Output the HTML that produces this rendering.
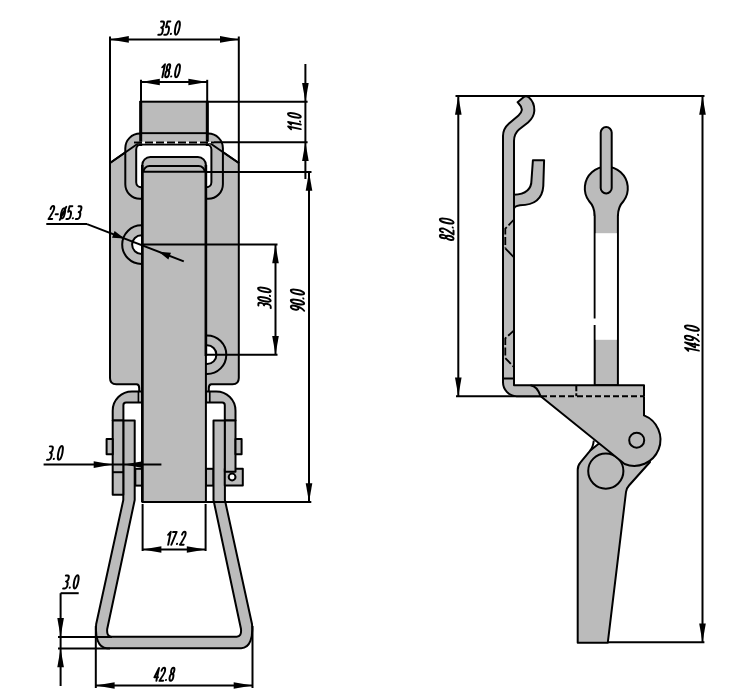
<!DOCTYPE html>
<html><head><meta charset="utf-8"><style>
html,body{margin:0;padding:0;background:#fff;}
svg{display:block;}
</style></head><body>
<svg width="729" height="696" viewBox="0 0 729 696">
<rect width="729" height="696" fill="#fff"/>
<path d="M110,163 L139.5,142.5 L209,142.5 L238.8,163 L238.8,378 Q238.8,384.3 232.5,384.3 L211.5,384.3 Q208.8,384.3 208.8,388 L208.8,392 L139.2,392 L139.2,388 Q139.2,384.3 136.5,384.3 L116.3,384.3 Q110,384.3 110,378 Z" fill="#bbbbbb" stroke="#000" stroke-width="2" stroke-linejoin="round" />
<circle cx="141.5" cy="244.6" r="19.3" fill="#bbbbbb" stroke="#000" stroke-width="2"/>
<circle cx="141.5" cy="244.6" r="9.4" fill="#fff" stroke="#000" stroke-width="2"/>
<circle cx="207.0" cy="354.7" r="19.3" fill="#bbbbbb" stroke="#000" stroke-width="2"/>
<circle cx="207.0" cy="354.7" r="9.4" fill="#fff" stroke="#000" stroke-width="2"/>
<path d="M139.9,133.6 L208.3,133.6 A14.6,14.6 0 0 1 222.9,148.2 L222.9,184.20000000000002 A14.6,14.6 0 0 1 208.3,198.8 L139.9,198.8 A14.6,14.6 0 0 1 125.3,184.20000000000002 L125.3,148.2 A14.6,14.6 0 0 1 139.9,133.6 Z" fill="#bbbbbb" stroke="#000" stroke-width="2" stroke-linejoin="round" />
<path d="M141.2,144.6 L206.4,144.6 A5,5 0 0 1 211.4,149.6 L211.4,182.2 A5,5 0 0 1 206.4,187.2 L141.2,187.2 A5,5 0 0 1 136.2,182.2 L136.2,149.6 A5,5 0 0 1 141.2,144.6 Z" fill="#fff" stroke="#000" stroke-width="2" stroke-linejoin="round" />
<line x1="110" y1="163" x2="139.5" y2="142.5" stroke="#000" stroke-width="2" />
<line x1="209" y1="142.5" x2="238.8" y2="163" stroke="#000" stroke-width="2" />
<rect x="140.7" y="101.7" width="66.6" height="31.5" fill="#bbbbbb" stroke="#000" stroke-width="2"/>
<rect x="141.7" y="134.2" width="64.6" height="9.4" fill="#bbbbbb"/>
<line x1="140.7" y1="101" x2="140.7" y2="146" stroke="#000" stroke-width="3" />
<line x1="207.3" y1="101" x2="207.3" y2="146" stroke="#000" stroke-width="3" />
<line x1="134" y1="142.5" x2="214" y2="142.5" stroke="#fff" stroke-width="1.6" />
<line x1="134" y1="142.5" x2="214" y2="142.5" stroke="#000" stroke-width="1.8" stroke-dasharray="8,3"/>
<path d="M142.3,391.4 L132,391.4 A19.3,19.3 0 0 0 112.7,410.7 L112.7,420.6 L123.4,420.6 L123.4,405.2 A2.6,2.6 0 0 1 126,402.6 L142.3,402.6 Z" fill="#bbbbbb" stroke="#000" stroke-width="2" stroke-linejoin="round" />
<path d="M205.9,391.4 L216.2,391.4 A19.3,19.3 0 0 1 235.5,410.7 L235.5,420.6 L224.8,420.6 L224.8,405.2 A2.6,2.6 0 0 0 222.2,402.6 L205.9,402.6 Z" fill="#bbbbbb" stroke="#000" stroke-width="2" stroke-linejoin="round" />
<line x1="138.4" y1="391.4" x2="138.4" y2="402.6" stroke="#000" stroke-width="1.6" />
<line x1="209.8" y1="391.4" x2="209.8" y2="402.6" stroke="#000" stroke-width="1.6" />
<rect x="135.3" y="468.8" width="7" height="16.8" fill="#bbbbbb" stroke="#000" stroke-width="2"/>
<rect x="205.9" y="468.8" width="7.6" height="16.8" fill="#bbbbbb" stroke="#000" stroke-width="2"/>
<path d="M123.3,420.6 L123.3,500 L96.2,624 C95,637 98,648.2 107,648.2 L241.2,648.2 C250.2,648.2 253.2,637 252,624 L224.9,500 L224.9,420.6 L213.5,420.6 L213.5,500 L241,629 Q241.7,636.8 236.7,636.8 L111.5,636.8 Q106.5,636.8 107.2,629 L134.7,500 L134.7,420.6 Z" fill="#bbbbbb" stroke="#000" stroke-width="2" stroke-linejoin="round" />
<path d="M224.8,468.8 L242.8,468.8 L242.8,485.6 L224.8,485.6 Z" fill="#bbbbbb" stroke="#000" stroke-width="2" stroke-linejoin="round" />
<circle cx="232.1" cy="477" r="3.4" fill="#fff" stroke="#000" stroke-width="2"/>
<path d="M112.7,420.6 L123.3,420.6 L123.3,494.7 L112.7,494.7 Z" fill="#bbbbbb" stroke="#000" stroke-width="2" stroke-linejoin="round" />
<line x1="112.7" y1="472.2" x2="123.3" y2="472.2" stroke="#000" stroke-width="2" />
<path d="M224.9,420.6 L235.5,420.6 L235.5,471.8 L224.9,471.8 Z" fill="#bbbbbb" stroke="#000" stroke-width="2" stroke-linejoin="round" />
<path d="M106.6,439.1 L112.7,439.1 L112.7,454.2 L106.6,454.2 Z" fill="#bbbbbb" stroke="#000" stroke-width="2" stroke-linejoin="round" />
<path d="M235.5,439.1 L241.6,439.1 L241.6,454.2 L235.5,454.2 Z" fill="#bbbbbb" stroke="#000" stroke-width="2" stroke-linejoin="round" />
<path d="M142.3,502 L142.3,165 A8,8 0 0 1 150.3,157 L197.9,157 A8,8 0 0 1 205.9,165 L205.9,502 Z" fill="#bbbbbb" stroke="#000" stroke-width="2" stroke-linejoin="round" />
<path d="M143.5,172 A6,6 0 0 1 149.5,166.1 L198.7,166.1 A6,6 0 0 1 204.7,172" fill="none" stroke="#000" stroke-width="2"/>
<line x1="142.3" y1="171.8" x2="205.9" y2="171.8" stroke="#000" stroke-width="2" />
<line x1="142.3" y1="165" x2="142.3" y2="502" stroke="#000" stroke-width="2.6" />
<line x1="205.9" y1="165" x2="205.9" y2="356" stroke="#000" stroke-width="2.6" />
<line x1="110" y1="36.5" x2="110" y2="163" stroke="#000" stroke-width="2" />
<line x1="238.8" y1="36.5" x2="238.8" y2="163" stroke="#000" stroke-width="2" />
<line x1="110" y1="39.4" x2="238.8" y2="39.4" stroke="#000" stroke-width="2" />
<polygon points="110.00,39.40 128.80,36.10 128.80,42.70" fill="#000"/>
<polygon points="238.80,39.40 220.00,42.70 220.00,36.10" fill="#000"/>
<g transform="translate(169.5,28) rotate(0) translate(-11.23,6.70) matrix(1,0,-0.2,1,0,0)"><path d="M0.14,-13.13 L1.86,-13.13 C3.00,-13.13 3.57,-11.97 3.57,-10.18 C3.57,-8.31 2.79,-7.15 1.50,-7.15 C3.00,-7.15 3.72,-5.72 3.72,-3.57 C3.72,-1.34 2.93,0.00 1.79,0.00 L0.00,0.00" fill="none" stroke="#000" stroke-width="1.950" stroke-linecap="round" stroke-linejoin="round"/><path d="M9.45,-13.13 L6.59,-13.13 L6.31,-7.41 C6.74,-7.95 7.24,-8.13 7.81,-8.13 C8.95,-8.13 9.67,-6.52 9.67,-4.02 C9.67,-1.52 8.88,0.00 7.74,0.00 L5.95,0.00" fill="none" stroke="#000" stroke-width="1.950" stroke-linecap="round" stroke-linejoin="round"/><circle cx="12.47" cy="-0.80" r="1.05" fill="#000"/><path d="M17.74,-13.40 C18.92,-13.40 19.78,-10.45 19.78,-6.70 C19.78,-2.95 18.92,0.00 17.74,0.00 C16.56,0.00 15.70,-2.95 15.70,-6.70 C15.70,-10.45 16.56,-13.40 17.74,-13.40 Z" fill="none" stroke="#000" stroke-width="1.950" stroke-linecap="round" stroke-linejoin="round"/></g>
<line x1="141" y1="79.8" x2="141" y2="101.7" stroke="#000" stroke-width="2" />
<line x1="207.2" y1="79.8" x2="207.2" y2="101.7" stroke="#000" stroke-width="2" />
<line x1="141" y1="82" x2="207.2" y2="82" stroke="#000" stroke-width="2" />
<polygon points="141.00,82.00 159.80,78.70 159.80,85.30" fill="#000"/>
<polygon points="207.20,82.00 188.40,85.30 188.40,78.70" fill="#000"/>
<g transform="translate(170.4,70.7) rotate(0) translate(-10.42,6.55) matrix(1,0,-0.2,1,0,0)"><path d="M0.28,-9.96 L2.38,-12.93 L2.38,0.00" fill="none" stroke="#000" stroke-width="1.950" stroke-linecap="round" stroke-linejoin="round"/><path d="M6.52,-13.10 C7.42,-13.10 8.05,-11.88 8.05,-10.04 C8.05,-8.21 7.42,-7.07 6.52,-7.07 C5.61,-7.07 4.98,-8.21 4.98,-10.04 C4.98,-11.88 5.61,-13.10 6.52,-13.10 Z M6.52,-7.07 C7.56,-7.07 8.33,-5.59 8.33,-3.54 C8.33,-1.48 7.56,0.00 6.52,0.00 C5.47,0.00 4.70,-1.48 4.70,-3.54 C4.70,-5.59 5.47,-7.07 6.52,-7.07 Z" fill="none" stroke="#000" stroke-width="1.950" stroke-linecap="round" stroke-linejoin="round"/><circle cx="11.07" cy="-0.79" r="1.05" fill="#000"/><path d="M16.23,-13.10 C17.38,-13.10 18.22,-10.22 18.22,-6.55 C18.22,-2.88 17.38,0.00 16.23,0.00 C15.07,0.00 14.24,-2.88 14.24,-6.55 C14.24,-10.22 15.07,-13.10 16.23,-13.10 Z" fill="none" stroke="#000" stroke-width="1.950" stroke-linecap="round" stroke-linejoin="round"/></g>
<line x1="207.3" y1="101.7" x2="307.6" y2="101.7" stroke="#000" stroke-width="2" />
<line x1="214" y1="142.3" x2="307.6" y2="142.3" stroke="#000" stroke-width="2" />
<line x1="205.9" y1="172" x2="311.5" y2="172" stroke="#000" stroke-width="2" />
<line x1="305.4" y1="64" x2="305.4" y2="179" stroke="#000" stroke-width="2" />
<polygon points="305.40,101.70 302.10,82.90 308.70,82.90" fill="#000"/>
<polygon points="305.40,142.30 308.70,161.10 302.10,161.10" fill="#000"/>
<g transform="translate(294.4,121.8) rotate(-90) translate(-9.63,6.40) matrix(1,0,-0.2,1,0,0)"><path d="M0.27,-9.73 L2.32,-12.63 L2.32,0.00" fill="none" stroke="#000" stroke-width="1.950" stroke-linecap="round" stroke-linejoin="round"/><path d="M4.86,-9.73 L6.91,-12.63 L6.91,0.00" fill="none" stroke="#000" stroke-width="1.950" stroke-linecap="round" stroke-linejoin="round"/><circle cx="9.73" cy="-0.77" r="1.05" fill="#000"/><path d="M14.76,-12.80 C15.89,-12.80 16.71,-9.98 16.71,-6.40 C16.71,-2.82 15.89,0.00 14.76,0.00 C13.64,0.00 12.82,-2.82 12.82,-6.40 C12.82,-9.98 13.64,-12.80 14.76,-12.80 Z" fill="none" stroke="#000" stroke-width="1.950" stroke-linecap="round" stroke-linejoin="round"/></g>
<line x1="205.9" y1="502" x2="311.3" y2="502" stroke="#000" stroke-width="2" />
<line x1="309" y1="172" x2="309" y2="502" stroke="#000" stroke-width="2" />
<polygon points="309.00,172.00 312.30,190.80 305.70,190.80" fill="#000"/>
<polygon points="309.00,502.00 305.70,483.20 312.30,483.20" fill="#000"/>
<g transform="translate(297.5,300) rotate(-90) translate(-11.32,6.65) matrix(1,0,-0.2,1,0,0)"><path d="M3.69,-9.49 C3.69,-7.36 2.91,-5.67 1.84,-5.67 C0.78,-5.67 0.00,-7.36 0.00,-9.49 C0.00,-11.62 0.78,-13.30 1.84,-13.30 C2.91,-13.30 3.69,-11.62 3.69,-9.49 C3.69,-5.32 2.84,-2.22 0.57,0.00" fill="none" stroke="#000" stroke-width="1.950" stroke-linecap="round" stroke-linejoin="round"/><path d="M7.93,-13.30 C9.10,-13.30 9.95,-10.37 9.95,-6.65 C9.95,-2.93 9.10,0.00 7.93,0.00 C6.76,0.00 5.91,-2.93 5.91,-6.65 C5.91,-10.37 6.76,-13.30 7.93,-13.30 Z" fill="none" stroke="#000" stroke-width="1.950" stroke-linecap="round" stroke-linejoin="round"/><circle cx="12.73" cy="-0.80" r="1.05" fill="#000"/><path d="M17.96,-13.30 C19.13,-13.30 19.99,-10.37 19.99,-6.65 C19.99,-2.93 19.13,0.00 17.96,0.00 C16.79,0.00 15.94,-2.93 15.94,-6.65 C15.94,-10.37 16.79,-13.30 17.96,-13.30 Z" fill="none" stroke="#000" stroke-width="1.950" stroke-linecap="round" stroke-linejoin="round"/></g>
<line x1="141.5" y1="244.5" x2="277.5" y2="244.5" stroke="#000" stroke-width="2" />
<line x1="207" y1="354.7" x2="277.5" y2="354.7" stroke="#000" stroke-width="2" />
<line x1="275.5" y1="244.5" x2="275.5" y2="354.7" stroke="#000" stroke-width="2" />
<polygon points="275.50,244.50 278.80,263.30 272.20,263.30" fill="#000"/>
<polygon points="275.50,354.70 272.20,335.90 278.80,335.90" fill="#000"/>
<g transform="translate(264.4,297.4) rotate(-90) translate(-10.73,6.30) matrix(1,0,-0.2,1,0,0)"><path d="M0.13,-12.35 L1.75,-12.35 C2.82,-12.35 3.36,-11.26 3.36,-9.58 C3.36,-7.81 2.62,-6.72 1.41,-6.72 C2.82,-6.72 3.49,-5.38 3.49,-3.36 C3.49,-1.26 2.76,0.00 1.68,0.00 L0.00,0.00" fill="none" stroke="#000" stroke-width="1.950" stroke-linecap="round" stroke-linejoin="round"/><path d="M7.51,-12.60 C8.62,-12.60 9.42,-9.83 9.42,-6.30 C9.42,-2.77 8.62,0.00 7.51,0.00 C6.40,0.00 5.59,-2.77 5.59,-6.30 C5.59,-9.83 6.40,-12.60 7.51,-12.60 Z" fill="none" stroke="#000" stroke-width="1.950" stroke-linecap="round" stroke-linejoin="round"/><circle cx="12.06" cy="-0.76" r="1.05" fill="#000"/><path d="M17.02,-12.60 C18.13,-12.60 18.93,-9.83 18.93,-6.30 C18.93,-2.77 18.13,0.00 17.02,0.00 C15.91,0.00 15.10,-2.77 15.10,-6.30 C15.10,-9.83 15.91,-12.60 17.02,-12.60 Z" fill="none" stroke="#000" stroke-width="1.950" stroke-linecap="round" stroke-linejoin="round"/></g>
<line x1="46.3" y1="224.1" x2="87.1" y2="224.1" stroke="#000" stroke-width="2" />
<line x1="87.1" y1="224.1" x2="183.8" y2="261.4" stroke="#000" stroke-width="2" />
<polygon points="124.50,238.60 112.01,237.64 114.60,230.92" fill="#000"/>
<polygon points="158.50,251.70 170.99,252.66 168.40,259.38" fill="#000"/>
<g transform="translate(65.3,212.5) rotate(0) translate(-16.77,6.50) matrix(1,0,-0.2,1,0,0)"><path d="M0.07,-10.05 C0.28,-11.96 0.97,-13.00 1.87,-13.00 C2.91,-13.00 3.54,-11.79 3.54,-9.88 C3.54,-7.63 2.36,-5.55 0.00,0.00 L3.67,0.00" fill="none" stroke="#000" stroke-width="1.950" stroke-linecap="round" stroke-linejoin="round"/><path d="M6.19,-4.68 L8.41,-4.68" fill="none" stroke="#000" stroke-width="1.950" stroke-linecap="round" stroke-linejoin="round"/><path d="M13.35,-10.83 C14.39,-10.83 15.15,-8.49 15.15,-5.63 C15.15,-2.77 14.39,-0.43 13.35,-0.43 C12.31,-0.43 11.54,-2.77 11.54,-5.63 C11.54,-8.49 12.31,-10.83 13.35,-10.83 Z M11.41,0.87 L15.29,-12.13" fill="none" stroke="#000" stroke-width="1.950" stroke-linecap="round" stroke-linejoin="round"/><path d="M21.27,-12.74 L18.49,-12.74 L18.22,-7.19 C18.63,-7.71 19.12,-7.89 19.67,-7.89 C20.78,-7.89 21.48,-6.33 21.48,-3.90 C21.48,-1.47 20.71,0.00 19.60,0.00 L17.87,0.00" fill="none" stroke="#000" stroke-width="1.950" stroke-linecap="round" stroke-linejoin="round"/><circle cx="24.20" cy="-0.78" r="1.05" fill="#000"/><path d="M27.47,-12.74 L29.14,-12.74 C30.25,-12.74 30.80,-11.61 30.80,-9.88 C30.80,-8.06 30.04,-6.93 28.79,-6.93 C30.25,-6.93 30.94,-5.55 30.94,-3.47 C30.94,-1.30 30.18,0.00 29.07,0.00 L27.33,0.00" fill="none" stroke="#000" stroke-width="1.950" stroke-linecap="round" stroke-linejoin="round"/></g>
<line x1="43.6" y1="464.6" x2="161.4" y2="464.6" stroke="#000" stroke-width="2" />
<polygon points="112.50,464.60 93.70,467.90 93.70,461.30" fill="#000"/>
<polygon points="124.00,464.60 142.80,461.30 142.80,467.90" fill="#000"/>
<g transform="translate(55.4,452.9) rotate(0) translate(-8.38,6.80) matrix(1,0,-0.2,1,0,0)"><path d="M0.15,-13.33 L1.89,-13.33 C3.05,-13.33 3.63,-12.15 3.63,-10.34 C3.63,-8.43 2.83,-7.25 1.52,-7.25 C3.05,-7.25 3.77,-5.80 3.77,-3.63 C3.77,-1.36 2.97,0.00 1.81,0.00 L0.00,0.00" fill="none" stroke="#000" stroke-width="1.950" stroke-linecap="round" stroke-linejoin="round"/><circle cx="6.62" cy="-0.82" r="1.05" fill="#000"/><path d="M11.97,-13.60 C13.16,-13.60 14.04,-10.61 14.04,-6.80 C14.04,-2.99 13.16,0.00 11.97,0.00 C10.77,0.00 9.90,-2.99 9.90,-6.80 C9.90,-10.61 10.77,-13.60 11.97,-13.60 Z" fill="none" stroke="#000" stroke-width="1.950" stroke-linecap="round" stroke-linejoin="round"/></g>
<line x1="142.6" y1="504" x2="142.6" y2="551" stroke="#000" stroke-width="2" />
<line x1="205.6" y1="504" x2="205.6" y2="551" stroke="#000" stroke-width="2" />
<line x1="142.6" y1="549.5" x2="205.6" y2="549.5" stroke="#000" stroke-width="2" />
<polygon points="142.60,549.50 161.40,546.20 161.40,552.80" fill="#000"/>
<polygon points="205.60,549.50 186.80,552.80 186.80,546.20" fill="#000"/>
<g transform="translate(176,538.2) rotate(0) translate(-10.17,6.50) matrix(1,0,-0.2,1,0,0)"><path d="M0.28,-9.88 L2.36,-12.83 L2.36,0.00" fill="none" stroke="#000" stroke-width="1.950" stroke-linecap="round" stroke-linejoin="round"/><path d="M4.66,-12.74 L8.27,-12.74 L5.49,0.00" fill="none" stroke="#000" stroke-width="1.950" stroke-linecap="round" stroke-linejoin="round"/><circle cx="10.99" cy="-0.78" r="1.05" fill="#000"/><path d="M14.20,-10.05 C14.40,-11.96 15.10,-13.00 16.00,-13.00 C17.04,-13.00 17.66,-11.79 17.66,-9.88 C17.66,-7.63 16.48,-5.55 14.13,0.00 L17.80,0.00" fill="none" stroke="#000" stroke-width="1.950" stroke-linecap="round" stroke-linejoin="round"/></g>
<line x1="95.8" y1="626" x2="95.8" y2="688" stroke="#000" stroke-width="2" />
<line x1="252.5" y1="626" x2="252.5" y2="688" stroke="#000" stroke-width="2" />
<line x1="95.8" y1="685.5" x2="252.5" y2="685.5" stroke="#000" stroke-width="2" />
<polygon points="95.80,685.50 114.60,682.20 114.60,688.80" fill="#000"/>
<polygon points="252.50,685.50 233.70,688.80 233.70,682.20" fill="#000"/>
<g transform="translate(164.4,674.3) rotate(0) translate(-10.76,6.50) matrix(1,0,-0.2,1,0,0)"><path d="M2.77,0.00 L2.77,-12.83 L0.00,-3.64 L3.67,-3.64" fill="none" stroke="#000" stroke-width="1.950" stroke-linecap="round" stroke-linejoin="round"/><path d="M5.91,-10.05 C6.12,-11.96 6.81,-13.00 7.71,-13.00 C8.75,-13.00 9.38,-11.79 9.38,-9.88 C9.38,-7.63 8.20,-5.55 5.84,0.00 L9.52,0.00" fill="none" stroke="#000" stroke-width="1.950" stroke-linecap="round" stroke-linejoin="round"/><circle cx="12.17" cy="-0.78" r="1.05" fill="#000"/><path d="M17.11,-13.00 C18.01,-13.00 18.63,-11.79 18.63,-9.97 C18.63,-8.15 18.01,-7.02 17.11,-7.02 C16.21,-7.02 15.58,-8.15 15.58,-9.97 C15.58,-11.79 16.21,-13.00 17.11,-13.00 Z M17.11,-7.02 C18.15,-7.02 18.91,-5.55 18.91,-3.51 C18.91,-1.47 18.15,0.00 17.11,0.00 C16.07,0.00 15.31,-1.47 15.31,-3.51 C15.31,-5.55 16.07,-7.02 17.11,-7.02 Z" fill="none" stroke="#000" stroke-width="1.950" stroke-linecap="round" stroke-linejoin="round"/></g>
<line x1="58" y1="636.9" x2="112" y2="636.9" stroke="#000" stroke-width="2" />
<line x1="58" y1="648.4" x2="110" y2="648.4" stroke="#000" stroke-width="2" />
<line x1="60.6" y1="593.2" x2="60.6" y2="686" stroke="#000" stroke-width="2" />
<line x1="60.6" y1="593.2" x2="78.7" y2="593.2" stroke="#000" stroke-width="2" />
<polygon points="60.60,636.90 57.30,618.10 63.90,618.10" fill="#000"/>
<polygon points="60.60,648.40 63.90,667.20 57.30,667.20" fill="#000"/>
<g transform="translate(71.3,581.8) rotate(0) translate(-8.19,6.65) matrix(1,0,-0.2,1,0,0)"><path d="M0.14,-13.03 L1.84,-13.03 C2.98,-13.03 3.55,-11.88 3.55,-10.11 C3.55,-8.25 2.77,-7.09 1.49,-7.09 C2.98,-7.09 3.69,-5.67 3.69,-3.55 C3.69,-1.33 2.91,0.00 1.77,0.00 L0.00,0.00" fill="none" stroke="#000" stroke-width="1.950" stroke-linecap="round" stroke-linejoin="round"/><circle cx="6.47" cy="-0.80" r="1.05" fill="#000"/><path d="M11.70,-13.30 C12.87,-13.30 13.73,-10.37 13.73,-6.65 C13.73,-2.93 12.87,0.00 11.70,0.00 C10.53,0.00 9.68,-2.93 9.68,-6.65 C9.68,-10.37 10.53,-13.30 11.70,-13.30 Z" fill="none" stroke="#000" stroke-width="1.950" stroke-linecap="round" stroke-linejoin="round"/></g>
<line x1="455.5" y1="96" x2="704.5" y2="96" stroke="#000" stroke-width="2" />
<line x1="458.3" y1="96" x2="458.3" y2="396.3" stroke="#000" stroke-width="2" />
<polygon points="458.30,96.00 461.60,114.80 455.00,114.80" fill="#000"/>
<polygon points="458.30,396.30 455.00,377.50 461.60,377.50" fill="#000"/>
<g transform="translate(446.7,229) rotate(-90) translate(-11.48,6.85) matrix(1,0,-0.2,1,0,0)"><path d="M1.90,-13.70 C2.85,-13.70 3.51,-12.42 3.51,-10.50 C3.51,-8.59 2.85,-7.40 1.90,-7.40 C0.95,-7.40 0.29,-8.59 0.29,-10.50 C0.29,-12.42 0.95,-13.70 1.90,-13.70 Z M1.90,-7.40 C3.00,-7.40 3.80,-5.85 3.80,-3.70 C3.80,-1.55 3.00,0.00 1.90,0.00 C0.80,0.00 0.00,-1.55 0.00,-3.70 C0.00,-5.85 0.80,-7.40 1.90,-7.40 Z" fill="none" stroke="#000" stroke-width="1.950" stroke-linecap="round" stroke-linejoin="round"/><path d="M6.16,-10.59 C6.38,-12.60 7.11,-13.70 8.06,-13.70 C9.15,-13.70 9.81,-12.42 9.81,-10.41 C9.81,-8.04 8.57,-5.85 6.08,0.00 L9.96,0.00" fill="none" stroke="#000" stroke-width="1.950" stroke-linecap="round" stroke-linejoin="round"/><circle cx="12.75" cy="-0.82" r="1.05" fill="#000"/><path d="M18.14,-13.70 C19.34,-13.70 20.22,-10.69 20.22,-6.85 C20.22,-3.01 19.34,0.00 18.14,0.00 C16.93,0.00 16.06,-3.01 16.06,-6.85 C16.06,-10.69 16.93,-13.70 18.14,-13.70 Z" fill="none" stroke="#000" stroke-width="1.950" stroke-linecap="round" stroke-linejoin="round"/></g>
<line x1="702.5" y1="96" x2="702.5" y2="642.3" stroke="#000" stroke-width="2" />
<polygon points="702.50,96.00 705.80,114.80 699.20,114.80" fill="#000"/>
<polygon points="702.50,642.30 699.20,623.50 705.80,623.50" fill="#000"/>
<line x1="608" y1="642.3" x2="704.4" y2="642.3" stroke="#000" stroke-width="2" />
<g transform="translate(691.9,338.9) rotate(-90) translate(-14.28,7.00) matrix(1,0,-0.2,1,0,0)"><path d="M0.30,-10.64 L2.54,-13.81 L2.54,0.00" fill="none" stroke="#000" stroke-width="1.950" stroke-linecap="round" stroke-linejoin="round"/><path d="M8.01,0.00 L8.01,-13.81 L5.02,-3.92 L8.98,-3.92" fill="none" stroke="#000" stroke-width="1.950" stroke-linecap="round" stroke-linejoin="round"/><path d="M15.19,-9.99 C15.19,-7.75 14.37,-5.97 13.25,-5.97 C12.13,-5.97 11.31,-7.75 11.31,-9.99 C11.31,-12.23 12.13,-14.00 13.25,-14.00 C14.37,-14.00 15.19,-12.23 15.19,-9.99 C15.19,-5.60 14.30,-2.33 11.91,0.00" fill="none" stroke="#000" stroke-width="1.950" stroke-linecap="round" stroke-linejoin="round"/><circle cx="18.13" cy="-0.84" r="1.05" fill="#000"/><path d="M23.63,-14.00 C24.86,-14.00 25.76,-10.92 25.76,-7.00 C25.76,-3.08 24.86,0.00 23.63,0.00 C22.40,0.00 21.50,-3.08 21.50,-7.00 C21.50,-10.92 22.40,-14.00 23.63,-14.00 Z" fill="none" stroke="#000" stroke-width="1.950" stroke-linecap="round" stroke-linejoin="round"/></g>
<line x1="456" y1="396.3" x2="541" y2="396.3" stroke="#000" stroke-width="2" />
<path d="M577.7,642.7 L577.7,470 Q577.7,465.5 580.5,462.3 L590,450.8 L599,443.5 L650,462 L629,485.5 Q626.3,488.5 626,492 L607.8,642.7 Z" fill="#bbbbbb" stroke="#000" stroke-width="2" stroke-linejoin="round" />
<path d="M590,450.8 Q593,447.5 593.8,440.5" fill="none" stroke="#000" stroke-width="2"/>
<circle cx="605.8" cy="471.1" r="17.6" fill="#bbbbbb" stroke="#000" stroke-width="2"/>
<rect x="594.7" y="205" width="23.2" height="180.3" fill="#bbbbbb" stroke="#000" stroke-width="2"/>
<rect x="595.7" y="233.2" width="21.2" height="106.6" fill="#fff"/>
<rect x="592.5" y="318.5" width="4" height="6.5" fill="#fff"/>
<path d="M594.7,216 Q594.7,207 589,201 A21.5,21.5 0 1 1 623.6,201 Q617.9,207 617.9,216 Z" fill="#bbbbbb"/>
<path d="M594.7,216 Q594.7,207 589,201 A21.5,21.5 0 1 1 623.6,201 Q617.9,207 617.9,216" fill="none" stroke="#000" stroke-width="2"/>
<rect x="600.7" y="127.1" width="11" height="66.3" rx="5.5" fill="#bbbbbb" stroke="#000" stroke-width="2"/>
<path d="M503,150 L503,136 C503,130 505,127 509,123.5 L518.5,115.5 C522.5,112 523,108 519.5,104.5 L517.6,102.2 L523.8,97 C525,96 527,96 529,97.5 C533,101 534.5,106 534.3,111 C534,116 532,119 528,122.5 L519,129.5 C515.5,132.5 514,135.5 514,141 L514,385.3 L644,385.3 L644,396.3 L516.5,396.3 A14,14 0 0 1 503,382 Z" fill="#bbbbbb"/>
<path d="M541,396.3 L516.5,396.3 A14,14 0 0 1 503,382 L503,136 C503,130 505,127 509,123.5 L518.5,115.5 C522.5,112 523,108 519.5,104.5 L517.6,102.2 L523.8,97 C525,96 527,96 529,97.5 C533,101 534.5,106 534.3,111 C534,116 532,119 528,122.5 L519,129.5 C515.5,132.5 514,135.5 514,141 L514,385.3 L644,385.3 L644,396.3" fill="none" stroke="#000" stroke-width="2" stroke-linejoin="round"/>
<line x1="503" y1="378.5" x2="514" y2="378.5" stroke="#000" stroke-width="2" />
<path d="M514,194.8 Q531.5,194 531.5,180 L532.9,160.3 L544.1,160.3 L543.3,186 Q542,205.2 520,205.2 Q514,206 514,209 Z" fill="#bbbbbb" stroke="#000" stroke-width="2" stroke-linejoin="round" />
<path d="M540.7,396.3 L644,396.3 L644,415.4 A25.5,25.5 0 1 1 624.6,464 Z" fill="#bbbbbb"/>
<path d="M644,396.3 L644,415.4 A25.5,25.5 0 1 1 624.6,464 L540.7,396.3" fill="none" stroke="#000" stroke-width="2"/>
<circle cx="636.7" cy="440.2" r="7.5" fill="#bbbbbb" stroke="#000" stroke-width="2"/>
<path d="M530.5,385.3 Q537,386 540.7,396.3" fill="none" stroke="#000" stroke-width="2"/>
<line x1="541" y1="396.3" x2="644" y2="396.3" stroke="#000" stroke-width="2" stroke-dasharray="6,3"/>
<line x1="576.3" y1="385.3" x2="576.3" y2="396.3" stroke="#000" stroke-width="2" stroke-dasharray="6,2"/>
<path d="M514,219.5 L505.3,228.7 L505.3,248.3" fill="none" stroke="#000" stroke-width="1.8" stroke-dasharray="8,2.5"/>
<path d="M505.3,248.3 L514,257.5" fill="none" stroke="#000" stroke-width="1.8"/>
<path d="M514,330.3 L505.3,338.4 L505.3,358 L514,367.1" fill="none" stroke="#000" stroke-width="1.8" stroke-dasharray="8,2.5"/>
</svg></body></html>
